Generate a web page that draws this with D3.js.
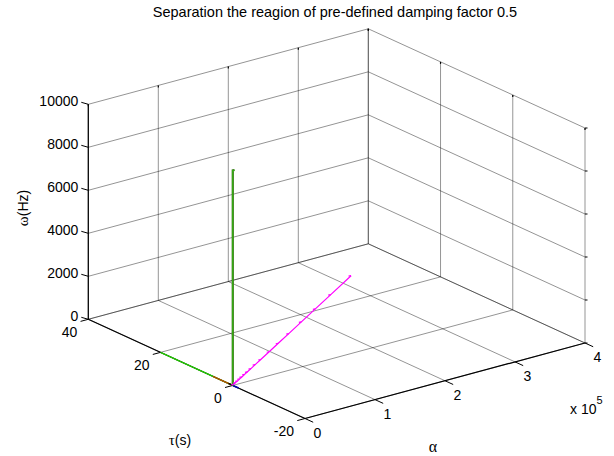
<!DOCTYPE html>
<html>
<head>
<meta charset="utf-8">
<script src="https://cdn.jsdelivr.net/npm/d3@7"></script>
<style>
  body { margin: 0; background: #fff; }
  svg { font-family: "Liberation Sans", Arial, sans-serif; }
  .greek { font-family: "Liberation Serif", "Times New Roman", serif; }
</style>
</head>
<body>
<svg id="chart" width="614" height="456"></svg>
<script>
// axis ticks
var alphaTicks = [0, 100000, 200000, 300000, 400000];
var alphaTickLabels = ["0", "1", "2", "3", "4"];
var tauTicks = [-20, 0, 20, 40];
var tauTickLabels = ["-20", "0", "20", "40"];
var omegaTicks = [0, 2000, 4000, 6000, 8000, 10000];
var omegaTickLabels = ["0", "2000", "4000", "6000", "8000", "10000"];

// series (alpha, tau, omega)
var greenVAlpha = [0, 0, 2500];
var greenVTau = [0, 0, 0];
var greenVOmega = [0, 10000, 10000];

var greenTAlpha = [0, 0];
var greenTTau = [0.5, 20];
var greenTOmega = [0, 0];

var redAlpha = [0, 0];
var redTau = [0, 5.5];
var redOmega = [0, 0];

var blueAlpha = [0, 0];
var blueTau = [0, -1.6];
var blueOmega = [0, 0];

var blackAlpha = [0, 0];
var blackTau = [0, 1.2];
var blackOmega = [0, 0];

var magAlpha = [1500, 4000, 7000, 10000, 13000, 17000, 21000, 26000, 32000, 40000, 52000, 65000, 80000, 98000, 118000, 140000, 169000];
var magTau = [0, 0, 0, 0, 0, 0, 0, 0, 0, 0, 0, 0, 0, 0, 0, 0, 0];
var magOmega = [40, 95, 150, 215, 280, 365, 450, 555, 685, 855, 1110, 1390, 1710, 2095, 2525, 2995, 3620];

var svg = d3.select("#chart");

var xA = d3.scaleLinear().domain([0, 400000]).range([0, 1]);
var yT = d3.scaleLinear().domain([-20, 40]).range([0, 1]);
var zW = d3.scaleLinear().domain([0, 10000]).range([0, 1]);

var O = [305, 418.5], VA = [280, -75.5], VT = [-216.7, -99.2], VZ = [0, -215];

function proj(a, t, w) {
  var u = xA(a), v = yT(t), s = zW(w);
  return [O[0] + u * VA[0] + v * VT[0] + s * VZ[0],
          O[1] + u * VA[1] + v * VT[1] + s * VZ[1]];
}

function seg(g, p, q, color, width) {
  g.append("line")
    .attr("x1", p[0]).attr("y1", p[1])
    .attr("x2", q[0]).attr("y2", q[1])
    .style("stroke", color)
    .style("stroke-width", width);
}

var grid = svg.append("g");
var gridCol = "rgba(0,0,0,0.42)";

// floor
alphaTicks.forEach(function(a) { seg(grid, proj(a, -20, 0), proj(a, 40, 0), gridCol, 1); });
tauTicks.forEach(function(t) { seg(grid, proj(0, t, 0), proj(400000, t, 0), gridCol, 1); });
// back wall (tau = 40)
alphaTicks.forEach(function(a) { seg(grid, proj(a, 40, 0), proj(a, 40, 10000), gridCol, 1); });
omegaTicks.forEach(function(w) { seg(grid, proj(0, 40, w), proj(400000, 40, w), gridCol, 1); });
// right wall (alpha = 4e5)
tauTicks.forEach(function(t) { seg(grid, proj(400000, t, 0), proj(400000, t, 10000), gridCol, 1); });
omegaTicks.forEach(function(w) { seg(grid, proj(400000, -20, w), proj(400000, 40, w), gridCol, 1); });

// axis lines
var ax = svg.append("g");
seg(ax, proj(0, 40, 0), proj(0, 40, 10000), "#000", 1.2);
seg(ax, proj(0, -20, 0), proj(0, 40, 0), "#000", 1.2);
seg(ax, proj(0, -20, 0), proj(400000, -20, 0), "#000", 1.2);

// ticks
var tauDir = [VT[0] / Math.hypot(VT[0], VT[1]), VT[1] / Math.hypot(VT[0], VT[1])];
var alphaDir = [VA[0] / Math.hypot(VA[0], VA[1]), VA[1] / Math.hypot(VA[0], VA[1])];
omegaTicks.forEach(function(w) {
  var p = proj(0, 40, w);
  seg(ax, p, [p[0] - 7, p[1] - 2], "#000", 1);
  var q = proj(400000, -20, w);
  seg(ax, q, [q[0] + 2.5, q[1]], "#000", 1);
});
tauTicks.forEach(function(t) {
  var p = proj(0, t, 0);
  seg(ax, p, [p[0] - alphaDir[0] * 8, p[1] - alphaDir[1] * 8], "#000", 1);
});
alphaTicks.forEach(function(a) {
  var p = proj(a, -20, 0);
  seg(ax, p, [p[0] - tauDir[0] * 9, p[1] - tauDir[1] * 9], "#000", 1);
  var q = proj(a, 40, 10000);
  seg(ax, q, [q[0], q[1] + 2], "#000", 1.2);
});
tauTicks.forEach(function(t) {
  var q = proj(400000, t, 10000);
  seg(ax, q, [q[0], q[1] + 2], "#000", 1.2);
});

// data
var line = d3.line();
function series(A, T, W, color, width) {
  svg.append("path")
    .datum(A.map(function(a, i) { return proj(a, T[i], W[i]); }))
    .attr("d", line)
    .style("fill", "none")
    .style("stroke", color)
    .style("stroke-width", width);
}
series(greenTAlpha, greenTTau, greenTOmega, "#22cc00", 1.4);
series(redAlpha, redTau, redOmega, "#b84a00", 1.4);
series(blackAlpha, blackTau, blackOmega, "#000", 1.4);
series(blueAlpha, blueTau, blueOmega, "#0000aa", 1.6);
series(greenVAlpha, greenVTau, greenVOmega, "#3a6a1a", 2.2);
series(greenVAlpha, greenVTau, greenVOmega, "#33bb11", 1.1);
series(magAlpha, magTau, magOmega, "#ff00ff", 1.2);

svg.append("g").selectAll("line")
  .data(magAlpha.map(function(a, i) { return proj(a, magTau[i], magOmega[i]); }))
  .enter().append("line")
  .attr("x1", function(d) { return d[0] - 2.5; })
  .attr("y1", function(d) { return d[1] + 0.5; })
  .attr("x2", function(d) { return d[0]; })
  .attr("y2", function(d) { return d[1]; })
  .style("stroke", "#ff00ff")
  .style("stroke-width", 1.2);

// labels
var lab = svg.append("g").style("font-size", "14px").style("fill", "#000");
omegaTicks.forEach(function(w, i) {
  var p = proj(0, 40, w);
  lab.append("text").attr("x", p[0] - 10).attr("y", p[1] - 3)
    .attr("dy", "0.35em").attr("text-anchor", "end").text(omegaTickLabels[i]);
});
tauTicks.forEach(function(t, i) {
  var p = proj(0, t, 0);
  lab.append("text").attr("x", p[0] - 11).attr("y", p[1] + 13)
    .attr("dy", "0.35em").attr("text-anchor", "end").text(tauTickLabels[i]);
});
alphaTicks.forEach(function(a, i) {
  var p = proj(a, -20, 0);
  lab.append("text").attr("x", p[0] + 12.5).attr("y", p[1] + 14.5)
    .attr("dy", "0.35em").attr("text-anchor", "middle").text(alphaTickLabels[i]);
});

var ex = lab.append("text").attr("x", 570).attr("y", 414);
ex.append("tspan").text("x 10");
ex.append("tspan").attr("dy", -10).style("font-size", "11px").text("5");

lab.append("text").attr("x", 433).attr("y", 446).attr("dy", "0.35em")
  .attr("class", "greek").attr("text-anchor", "middle").style("font-size", "16px").text("\u03b1");
var tl = lab.append("text").attr("x", 180).attr("y", 440).attr("dy", "0.35em")
  .attr("text-anchor", "middle");
tl.append("tspan").attr("class", "greek").style("font-size", "15px").text("\u03c4");
tl.append("tspan").text("(s)");
var wl = lab.append("text").attr("transform", "translate(23,208) rotate(-90)")
  .attr("dy", "0.35em").attr("text-anchor", "middle");
wl.append("tspan").attr("class", "greek").style("font-size", "15px").text("\u03c9");
wl.append("tspan").text("(Hz)");

svg.append("text").attr("x", 335).attr("y", 12).attr("dy", "0.35em")
  .attr("text-anchor", "middle").style("font-size", "14.5px")
  .text("Separation the reagion of pre-defined damping factor 0.5");
</script>
</body>
</html>
